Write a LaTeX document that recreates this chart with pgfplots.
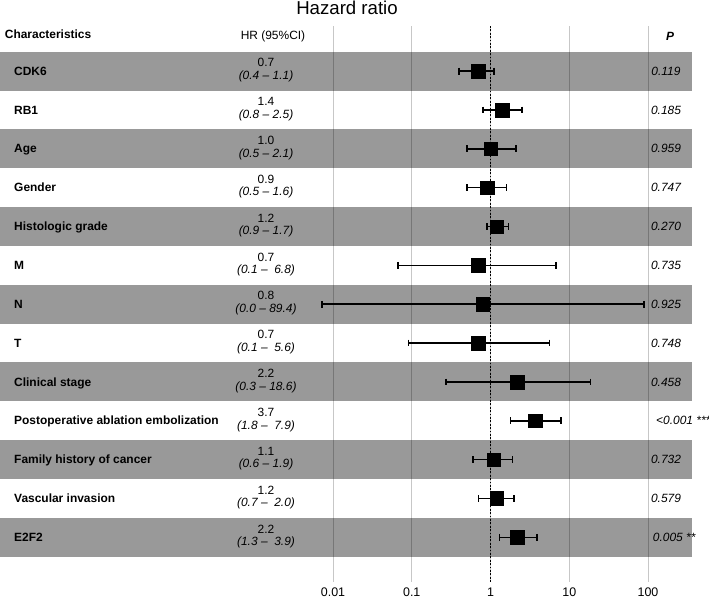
\documentclass[border=0pt]{standalone}
\usepackage{pgfplots}
\pgfplotsset{compat=1.18}
\usepackage{fontspec}
\setmainfont{Liberation Sans}
\definecolor{band}{RGB}{153,153,153}
\begin{document}
\begin{tikzpicture}[x=1bp,y=1bp]
\path[use as bounding box] (0,0) rectangle (709,599);
% alternating row bands
\foreach \i in {1,3,...,13} {
  \fill[band] (0,{599-(51.7+38.85*(\i-1))}) rectangle (692,{599-(51.7+38.85*\i)});
}
\begin{axis}[
  at={(0bp,17bp)}, anchor=south west,
  scale only axis, width=692bp, height=556bp,
  xmode=log, xmin=5.9e-7, xmax=362.2,
  ymin=-14.15, ymax=0.1615,
  axis line style={draw=none},
  xtick={0.01,0.1,1,10,100},
  xticklabels={0.01,0.1,1,10,100},
  xminorticks=false,
  ytick=\empty,
  major tick length=0pt, minor tick length=0pt,
  xmajorgrids,
  grid style={black, opacity=0.22, line width=0.9bp},
  xticklabel style={font=\fontsize{12.5}{14}\selectfont, yshift=-2bp},
  clip=false,
  ci/.style={black, line width=1.6bp, mark=|, mark size=3.4bp, mark options={solid, line width=1.6bp}, forget plot},
]
\addplot[black, line width=1.6bp, dash pattern=on 1.7bp off 1.7bp, forget plot]
  coordinates {(1,-14.15) (1,0.1615)};
% confidence intervals
\addplot[ci] coordinates {(0.4,-1) (1.1,-1)};
\addplot[ci] coordinates {(0.8,-2) (2.5,-2)};
\addplot[ci] coordinates {(0.5,-3) (2.1,-3)};
\addplot[ci] coordinates {(0.5,-4) (1.6,-4)};
\addplot[ci] coordinates {(0.9,-5) (1.7,-5)};
\addplot[ci] coordinates {(0.067,-6) (6.8,-6)};
\addplot[ci] coordinates {(0.0072,-7) (89.4,-7)};
\addplot[ci] coordinates {(0.091,-8) (5.6,-8)};
\addplot[ci] coordinates {(0.27,-9) (18.6,-9)};
\addplot[ci] coordinates {(1.8,-10) (7.9,-10)};
\addplot[ci] coordinates {(0.6,-11) (1.9,-11)};
\addplot[ci] coordinates {(0.7,-12) (2.0,-12)};
\addplot[ci] coordinates {(1.3,-13) (3.9,-13)};
% hazard ratios
\addplot[only marks, mark=square*, mark size=6.8bp, black] coordinates {
  (0.7,-1) (1.4,-2) (1.0,-3) (0.9,-4) (1.2,-5) (0.7,-6) (0.8,-7)
  (0.7,-8) (2.2,-9) (3.7,-10) (1.1,-11) (1.2,-12) (2.2,-13)
};
\end{axis}
% title and header
\node[anchor=base, inner sep=0, font=\fontsize{18.7}{21}\selectfont] at (347,{599-14.5}) {Hazard ratio};
\node[anchor=base west, inner sep=0, font=\fontsize{12}{14}\selectfont\bfseries] at (4.7,{599-39}) {Characteristics};
\node[anchor=base, inner sep=0, font=\fontsize{12}{14}\selectfont] at (273,{599-40}) {HR (95\%CI)};
\node[anchor=base, inner sep=0, font=\fontsize{12}{14}\selectfont\bfseries\itshape] at (670,{599-40.5}) {P};
% row labels
\foreach \i/\lab in {1/CDK6, 2/RB1, 3/Age, 4/Gender, 5/Histologic grade, 6/M, 7/N, 8/T,
  9/Clinical stage, 10/Postoperative ablation embolization, 11/Family history of cancer,
  12/Vascular invasion, 13/E2F2} {
  \node[anchor=base west, inner sep=0, font=\fontsize{12}{14}\selectfont\bfseries]
    at (14,{599-(32.275+38.85*\i)-4.1}) {\lab};
}
% HR and CI text
\foreach \i/\a/\b in {1/0.7/{(0.4 – 1.1)}, 2/1.4/{(0.8 – 2.5)}, 3/1.0/{(0.5 – 2.1)},
  4/0.9/{(0.5 – 1.6)}, 5/1.2/{(0.9 – 1.7)}, 6/0.7/{(0.1 –\ \ 6.8)}, 7/0.8/{(0.0 – 89.4)},
  8/0.7/{(0.1 –\ \ 5.6)}, 9/2.2/{(0.3 – 18.6)}, 10/3.7/{(1.8 –\ \ 7.9)}, 11/1.1/{(0.6 – 1.9)},
  12/1.2/{(0.7 –\ \ 2.0)}, 13/2.2/{(1.3 –\ \ 3.9)}} {
  \node[anchor=base, inner sep=0, font=\fontsize{12}{14}\selectfont]
    at (266,{599-(32.275+38.85*\i)+4.3}) {\a};
  \node[anchor=base, inner sep=0, font=\fontsize{12}{14}\selectfont\itshape]
    at (266,{599-(32.275+38.85*\i)-8.3}) {\b};
}
% P values
\foreach \i/\p in {1/0.119, 2/0.185, 3/0.959, 4/0.747, 5/0.270, 6/0.735, 7/0.925, 8/0.748,
  9/0.458, 11/0.732, 12/0.579} {
  \node[anchor=base, inner sep=0, font=\fontsize{12}{14}\selectfont\itshape]
    at (666,{599-(32.275+38.85*\i)-4.1}) {\p};
}
\node[anchor=base west, inner sep=0, font=\fontsize{12}{14}\selectfont\itshape]
  at (656,{599-(32.275+38.85*10)-4.1}) {<0.001 ***};
\node[anchor=base west, inner sep=0, font=\fontsize{12}{14}\selectfont\itshape]
  at (652.7,{599-(32.275+38.85*13)-4.1}) {0.005 **};
\end{tikzpicture}
\end{document}
